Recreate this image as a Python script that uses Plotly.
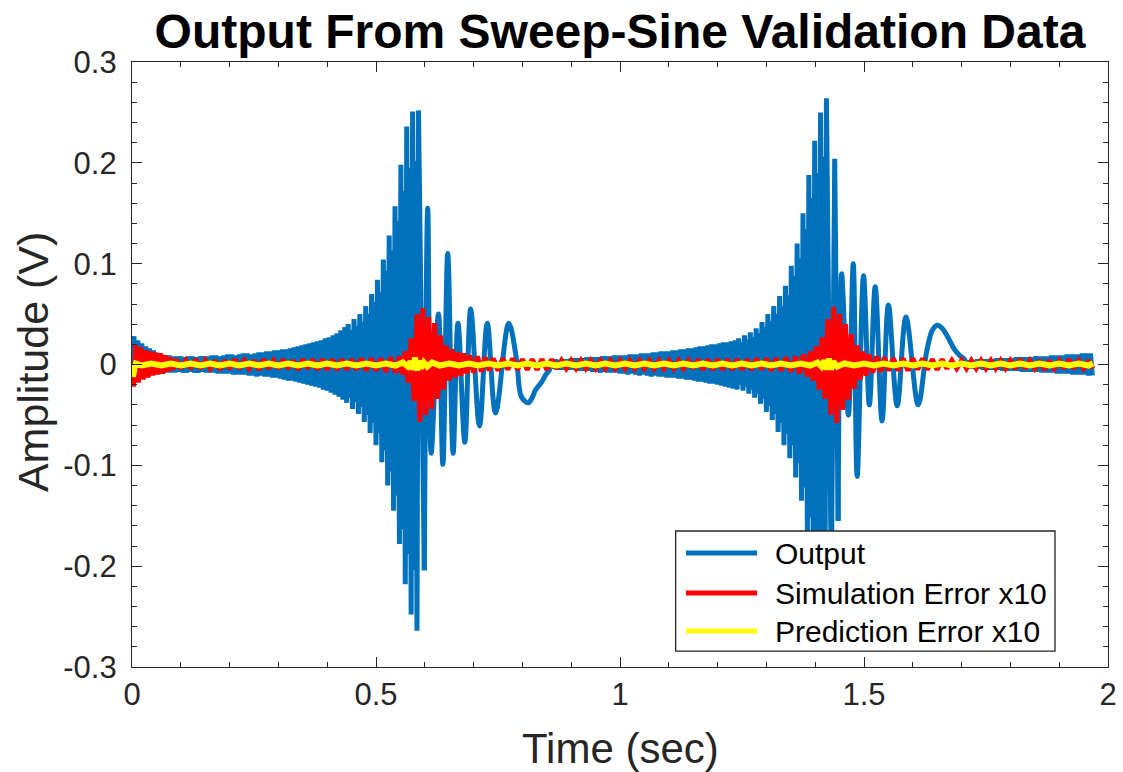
import plotly.graph_objects as go

# ---------------- data ----------------
# Output (V): irregular pieces (times, values) and uniformly sampled dense pieces (start, step, values)
out_start_t = [0.000, 0.004, 0.008, 0.012, 0.016, 0.020, 0.024, 0.028, 0.032, 0.036, 0.040, 0.044, 0.048]
out_start_v = [0.000, 0.028, -0.012, 0.024, -0.011, 0.021, -0.010, 0.018, -0.009, 0.016, -0.009, 0.014, -0.009]

out_a_start, out_a_step = 0.052, 0.004
out_a_v = [
    0.011, -0.009, 0.010, -0.008, 0.009, -0.008, 0.009, -0.008, 0.008, -0.008,
    0.008, -0.007, 0.008, -0.008, 0.007, -0.008, 0.008, -0.007, 0.008, -0.008,
    0.007, -0.008, 0.008, -0.007, 0.008, -0.008, 0.008, -0.008, 0.009, -0.008,
    0.009, -0.009, 0.008, -0.009, 0.009, -0.009, 0.010, -0.009, 0.010, -0.010,
    0.009, -0.010, 0.010, -0.010, 0.011, -0.010, 0.011, -0.011, 0.010, -0.011,
    0.011, -0.012, 0.012, -0.011, 0.012, -0.012, 0.013, -0.012, 0.013, -0.013,
    0.014, -0.013, 0.014, -0.014, 0.015, -0.015, 0.015, -0.016, 0.016, -0.016,
    0.017, -0.017, 0.018, -0.018, 0.019, -0.019, 0.020, -0.020, 0.021, -0.021,
    0.022, -0.022, 0.023, -0.023, 0.024, -0.025, 0.026, -0.026, 0.027, -0.028,
    0.029, -0.030, 0.031, -0.032, 0.034, -0.035, 0.037,
]

out_b_start, out_b_step = 0.440, 0.003
out_b_v = [
    -0.038, 0.040, -0.033, 0.034, -0.044, 0.045, -0.037, 0.038, -0.049, 0.050,
    -0.042, 0.042, -0.057, 0.058, -0.050, 0.050, -0.068, 0.070, -0.058, 0.062,
    -0.080, 0.084, -0.068, 0.072, -0.097, 0.104, -0.085, 0.093, -0.120, 0.128,
    -0.106, 0.113, -0.145, 0.157, -0.130, 0.142, -0.178, 0.198, -0.164, 0.172,
    -0.218, 0.236, -0.188, 0.195, -0.248, 0.251, -0.204, 0.202, -0.264, 0.252,
]

out_slow1_t = [0.599, 0.606, 0.613, 0.628, 0.637, 0.647, 0.658, 0.668, 0.682, 0.694,
               0.712, 0.728, 0.745, 0.772, 0.788, 0.798, 0.812, 0.820, 0.826, 0.832,
               0.840, 0.848, 0.856]
out_slow1_v = [-0.204, 0.155, -0.088, 0.050, -0.099, 0.110, -0.088, 0.041, -0.077, 0.055,
               -0.061, 0.041, -0.048, 0.041, 0.005, -0.032, -0.038, -0.033, -0.026, -0.022,
               -0.017, -0.010, -0.005]

out_c_start, out_c_step = 0.860, 0.004
out_c_v = [
    0.004, -0.004, 0.005, -0.005, 0.004, -0.005, 0.005, -0.005, 0.005, -0.005,
    0.006, -0.005, 0.006, -0.006, 0.006, -0.006, 0.006, -0.006, 0.007, -0.006,
    0.007, -0.007, 0.007, -0.007, 0.007, -0.008, 0.008, -0.007, 0.008, -0.008,
    0.008, -0.008, 0.009, -0.008, 0.009, -0.009, 0.009, -0.009, 0.009, -0.010,
    0.010, -0.009, 0.010, -0.010, 0.010, -0.011, 0.011, -0.010, 0.011, -0.011,
    0.011, -0.012, 0.012, -0.011, 0.012, -0.012, 0.013, -0.012, 0.013, -0.013,
    0.013, -0.013, 0.014, -0.013, 0.014, -0.014, 0.015, -0.014, 0.015, -0.015,
    0.016, -0.015, 0.016, -0.016, 0.017, -0.017, 0.018, -0.017, 0.018, -0.018,
    0.019, -0.019, 0.020, -0.019, 0.020, -0.020, 0.021, -0.021, 0.022, -0.022,
    0.022, -0.023, 0.023, -0.024, 0.024, -0.025,
]

out_d_start, out_d_step = 1.243, 0.003
out_d_v = [
    0.026, -0.020, 0.022, -0.026, 0.029, -0.022, 0.025, -0.029, 0.032, -0.025,
    0.027, -0.033, 0.036, -0.029, 0.031, -0.039, 0.042, -0.034, 0.037, -0.047,
    0.050, -0.041, 0.043, -0.055, 0.058, -0.049, 0.050, -0.067, 0.068, -0.058,
    0.058, -0.080, 0.078, -0.069, 0.069, -0.093, 0.098, -0.080, 0.088, -0.112,
    0.120, -0.098, 0.105, -0.135, 0.150, -0.122, 0.134, -0.170, 0.188, -0.152,
    0.165, -0.205, 0.222, -0.176, 0.190, -0.232, 0.250, -0.194, 0.206, -0.250,
    0.264,
]

out_slow2_t = [1.433, 1.440, 1.447, 1.454, 1.468, 1.478, 1.486, 1.499, 1.511, 1.523,
               1.537, 1.550, 1.568, 1.586, 1.611, 1.628, 1.640, 1.650, 1.660, 1.672,
               1.684, 1.696, 1.706]
out_slow2_v = [-0.215, 0.204, -0.155, 0.090, -0.050, 0.100, -0.111, 0.088, -0.040, 0.077,
               -0.056, 0.059, -0.041, 0.047, -0.040, 0.012, 0.034, 0.039, 0.036, 0.027,
               0.016, 0.009, 0.005]

out_e_start, out_e_step = 1.712, 0.004
out_e_v = [
    -0.004, 0.004, -0.004, 0.004, -0.004, 0.005, -0.004, 0.005, -0.005, 0.005,
    -0.005, 0.005, -0.005, 0.005, -0.005, 0.006, -0.005, 0.006, -0.006, 0.006,
    -0.006, 0.006, -0.006, 0.006, -0.006, 0.007, -0.006, 0.007, -0.007, 0.007,
    -0.007, 0.007, -0.007, 0.007, -0.007, 0.008, -0.007, 0.008, -0.008, 0.008,
    -0.008, 0.008, -0.008, 0.009, -0.008, 0.009, -0.009, 0.009, -0.009, 0.009,
    -0.009, 0.010, -0.009, 0.010, -0.010, 0.010, -0.010, 0.010, -0.010, 0.011,
    -0.010, 0.011, -0.011, 0.011, -0.011,
]

sim_t = [
    0.000, 0.003, 0.008, 0.013, 0.018, 0.023, 0.028, 0.033, 0.038, 0.043,
    0.048, 0.053, 0.058, 0.063, 0.068, 0.073, 0.078, 0.084, 0.090, 0.100,
    0.110, 0.120, 0.130, 0.140, 0.150, 0.160, 0.170, 0.180, 0.190, 0.200,
    0.210, 0.220, 0.230, 0.240, 0.250, 0.260, 0.270, 0.280, 0.290, 0.300,
    0.310, 0.320, 0.330, 0.340, 0.350, 0.360, 0.370, 0.380, 0.390, 0.400,
    0.410, 0.420, 0.430, 0.440, 0.450, 0.460, 0.470, 0.480, 0.490, 0.500,
    0.510, 0.520, 0.530, 0.540, 0.548, 0.554, 0.560, 0.566, 0.572, 0.578,
    0.584, 0.590, 0.596, 0.602, 0.608, 0.614, 0.620, 0.626, 0.632, 0.638,
    0.644, 0.650, 0.656, 0.662, 0.668, 0.674, 0.680, 0.686, 0.692, 0.700,
    0.708, 0.716, 0.724, 0.732, 0.740, 0.750, 0.760, 0.770, 0.780, 0.790,
    0.800, 0.810, 0.820, 0.830, 0.840, 0.850, 0.860, 0.870, 0.880, 0.890,
    0.900, 0.910, 0.920, 0.930, 0.940, 0.950, 0.960, 0.970, 0.980, 0.990,
    1.000, 1.010, 1.020, 1.030, 1.040, 1.050, 1.060, 1.070, 1.080, 1.090,
    1.100, 1.110, 1.120, 1.130, 1.140, 1.150, 1.160, 1.170, 1.180, 1.190,
    1.200, 1.210, 1.220, 1.230, 1.240, 1.250, 1.260, 1.270, 1.280, 1.290,
    1.300, 1.310, 1.320, 1.330, 1.340, 1.350, 1.360, 1.368, 1.376, 1.384,
    1.390, 1.396, 1.402, 1.408, 1.414, 1.420, 1.426, 1.432, 1.438, 1.444,
    1.450, 1.456, 1.462, 1.468, 1.474, 1.480, 1.486, 1.492, 1.498, 1.504,
    1.510, 1.518, 1.526, 1.534, 1.542, 1.550, 1.560, 1.570, 1.580, 1.590,
    1.600, 1.610, 1.620, 1.630, 1.640, 1.650, 1.660, 1.670, 1.680, 1.690,
    1.700, 1.710, 1.720, 1.730, 1.740, 1.750, 1.760, 1.770, 1.780, 1.790,
    1.800, 1.810, 1.820, 1.830, 1.840, 1.850, 1.860, 1.870, 1.880, 1.890,
    1.900, 1.910, 1.920, 1.930, 1.940, 1.950, 1.960, 1.969,
]
sim_v = [
    0.000, -0.022, 0.019, -0.018, 0.017, -0.015, 0.014, -0.013, 0.013, -0.011,
    0.012, -0.010, 0.011, -0.009, 0.009, -0.007, 0.007, -0.005, 0.005, -0.004,
    0.004, -0.004, 0.005, -0.004, 0.004, -0.004, 0.004, -0.005, 0.004, -0.004,
    0.005, -0.004, 0.004, -0.004, 0.004, -0.005, 0.005, -0.004, 0.004, -0.004,
    0.005, -0.004, 0.004, -0.005, 0.005, -0.004, 0.005, -0.005, 0.005, -0.005,
    0.005, -0.005, 0.005, -0.005, 0.005, -0.005, 0.006, -0.006, 0.006, -0.006,
    0.006, -0.007, 0.007, -0.008, 0.008, -0.010, 0.013, -0.018, 0.026, -0.036,
    0.050, -0.057, 0.056, -0.050, 0.047, -0.044, 0.041, -0.034, 0.029, -0.025,
    0.019, -0.016, 0.015, -0.013, 0.012, -0.011, 0.011, -0.009, 0.009, -0.008,
    0.008, -0.007, 0.007, -0.006, 0.006, -0.006, 0.006, -0.005, 0.006, -0.005,
    0.005, -0.005, 0.005, -0.005, 0.005, -0.005, 0.005, -0.004, 0.004, -0.004,
    0.004, -0.004, 0.004, -0.004, 0.004, -0.004, 0.004, -0.004, 0.004, -0.004,
    0.004, -0.004, 0.004, -0.004, 0.004, -0.004, 0.004, -0.004, 0.004, -0.004,
    0.004, -0.004, 0.004, -0.004, 0.004, -0.004, 0.005, -0.005, 0.005, -0.005,
    0.005, -0.005, 0.005, -0.005, 0.005, -0.005, 0.005, -0.005, 0.006, -0.005,
    0.006, -0.006, 0.006, -0.006, 0.007, -0.007, 0.008, -0.009, 0.010, -0.012,
    0.013, -0.016, 0.018, -0.025, 0.027, -0.034, 0.045, -0.050, 0.057, -0.058,
    0.050, -0.045, 0.040, -0.035, 0.030, -0.024, 0.019, -0.015, 0.013, -0.011,
    0.010, -0.008, 0.008, -0.007, 0.007, -0.006, 0.006, -0.006, 0.006, -0.006,
    0.006, -0.005, 0.006, -0.005, 0.005, -0.005, 0.005, -0.004, 0.004, -0.004,
    0.004, -0.004, 0.004, -0.004, 0.004, -0.004, 0.004, -0.004, 0.004, -0.004,
    0.004, -0.004, 0.005, -0.004, 0.004, -0.004, 0.004, -0.005, 0.004, -0.004,
    0.004, -0.004, 0.005, -0.004, 0.004, -0.004, 0.004, -0.004,
]

pred_t = [
    0.000, 0.002, 0.005, 0.008, 0.020, 0.040, 0.060, 0.080, 0.100, 0.120,
    0.140, 0.160, 0.180, 0.200, 0.220, 0.240, 0.260, 0.280, 0.300, 0.320,
    0.340, 0.360, 0.380, 0.400, 0.420, 0.440, 0.460, 0.480, 0.500, 0.520,
    0.540, 0.555, 0.565, 0.571, 0.576, 0.580, 0.584, 0.588, 0.592, 0.598,
    0.605, 0.615, 0.630, 0.650, 0.670, 0.690, 0.710, 0.730, 0.750, 0.770,
    0.790, 0.810, 0.830, 0.850, 0.870, 0.890, 0.910, 0.930, 0.950, 0.970,
    0.990, 1.010, 1.030, 1.050, 1.070, 1.090, 1.110, 1.130, 1.150, 1.170,
    1.190, 1.210, 1.230, 1.250, 1.270, 1.290, 1.310, 1.330, 1.350, 1.370,
    1.390, 1.405, 1.413, 1.419, 1.424, 1.428, 1.432, 1.437, 1.445, 1.460,
    1.480, 1.500, 1.520, 1.540, 1.560, 1.580, 1.600, 1.620, 1.640, 1.660,
    1.680, 1.700, 1.720, 1.740, 1.760, 1.780, 1.800, 1.820, 1.840, 1.860,
    1.880, 1.900, 1.920, 1.940, 1.960, 1.969,
]
pred_v = [
    0.000, -0.012, -0.004, 0.001, -0.001, 0.001, -0.001, 0.001, -0.001, 0.001,
    -0.001, 0.001, -0.001, 0.001, -0.001, 0.001, -0.001, 0.001, -0.001, 0.001,
    -0.001, 0.001, -0.001, 0.001, -0.001, 0.001, -0.001, 0.001, -0.001, 0.001,
    -0.001, 0.002, -0.002, 0.003, -0.005, 0.007, -0.006, 0.004, -0.004, 0.002,
    -0.002, 0.002, -0.001, 0.001, -0.001, 0.001, -0.001, 0.001, -0.001, 0.001,
    -0.001, 0.001, -0.001, 0.001, -0.001, 0.001, -0.001, 0.001, -0.001, 0.001,
    -0.001, 0.001, -0.001, 0.001, -0.001, 0.001, -0.001, 0.001, -0.001, 0.001,
    -0.001, 0.001, -0.001, 0.001, -0.001, 0.001, -0.001, 0.001, -0.001, 0.001,
    -0.001, 0.002, -0.002, 0.004, -0.005, 0.006, -0.005, 0.003, -0.002, 0.001,
    -0.001, 0.001, -0.001, 0.001, -0.001, 0.001, -0.001, 0.001, -0.001, 0.001,
    -0.001, 0.001, -0.001, 0.001, -0.001, 0.001, -0.001, 0.001, -0.001, 0.001,
    -0.001, 0.001, -0.001, 0.001, -0.001, 0.001,
]

series_names = ["Output", "Simulation Error x10", "Prediction Error x10"]
series_colors = ["#0072BD", "#FF0000", "#FFFF00"]

# time ranges where the output is a slow, smooth oscillation (drawn with a smooth line shape)
smooth_ranges = [(0.599, 0.860), (1.447, 1.712)]

x_tickvals = [0, 0.5, 1, 1.5, 2]
x_ticktext = ["0", "0.5", "1", "1.5", "2"]
y_tickvals = [-0.3, -0.2, -0.1, 0, 0.1, 0.2, 0.3]
y_ticktext = ["-0.3", "-0.2", "-0.1", "0", "0.1", "0.2", "0.3"]

title_text = "Output From Sweep-Sine Validation Data"
x_label = "Time (sec)"
y_label = "Amplitude (V)"

# ---------------- assemble the Output series ----------------
def uniform_times(start, step, n):
    return [round(start + i * step, 4) for i in range(n)]

pts = []
pts += list(zip(out_start_t, out_start_v))
pts += list(zip(uniform_times(out_a_start, out_a_step, len(out_a_v)), out_a_v))
pts += list(zip(uniform_times(out_b_start, out_b_step, len(out_b_v)), out_b_v))
pts += list(zip(out_slow1_t, out_slow1_v))
pts += list(zip(uniform_times(out_c_start, out_c_step, len(out_c_v)), out_c_v))
pts += list(zip(uniform_times(out_d_start, out_d_step, len(out_d_v)), out_d_v))
pts += list(zip(out_slow2_t, out_slow2_v))
pts += list(zip(uniform_times(out_e_start, out_e_step, len(out_e_v)), out_e_v))
pts.sort(key=lambda p: p[0])
out_t = [p[0] for p in pts]
out_v = [p[1] for p in pts]

assert len(out_start_t) == len(out_start_v)
assert len(out_slow1_t) == len(out_slow1_v)
assert len(out_slow2_t) == len(out_slow2_v)
assert len(sim_t) == len(sim_v)
assert len(pred_t) == len(pred_v)

# ---------------- figure ----------------
FONT = "Liberation Sans, Arial, Helvetica, sans-serif"
AXC = "#262626"
LW = 5.0

fig = go.Figure()

bounds = [0.0]
for a, b in smooth_ranges:
    bounds += [a, b]
bounds.append(10.0)
for i in range(len(bounds) - 1):
    lo, hi = bounds[i], bounds[i + 1]
    idx = [k for k, t in enumerate(out_t) if lo - 1e-9 <= t <= hi + 1e-9]
    shp = "spline" if i % 2 == 1 else "linear"
    fig.add_trace(go.Scatter(
        x=[out_t[k] for k in idx], y=[out_v[k] for k in idx], mode="lines",
        name=series_names[0], legendgroup="out", showlegend=False,
        line=dict(color=series_colors[0], width=LW, shape=shp, smoothing=1.0, simplify=False)))

fig.add_trace(go.Scatter(x=sim_t, y=sim_v, mode="lines", name=series_names[1],
                         line=dict(color=series_colors[1], width=LW, simplify=False), showlegend=False))
fig.add_trace(go.Scatter(x=pred_t, y=pred_v, mode="lines", name=series_names[2],
                         line=dict(color=series_colors[2], width=6, simplify=False), showlegend=False))

axis_common = dict(
    showgrid=False, zeroline=False, showline=True, linecolor=AXC, linewidth=1.3,
    mirror="ticks", ticks="inside", ticklen=10, tickwidth=1.3, tickcolor=AXC,
    tickfont=dict(family=FONT, size=31, color=AXC),
)

fig.update_xaxes(range=[0, 2], tickvals=x_tickvals, ticktext=x_ticktext,
                 minor=dict(dtick=0.1, ticks="inside", ticklen=5, tickwidth=1.3, tickcolor=AXC, showgrid=False),
                 ticklabelstandoff=0, **axis_common)
fig.update_yaxes(range=[-0.3, 0.3], tickvals=y_tickvals, ticktext=y_ticktext,
                 minor=dict(dtick=0.02, ticks="inside", ticklen=5, tickwidth=1.3, tickcolor=AXC, showgrid=False),
                 ticklabelstandoff=8, **axis_common)

# legend drawn as a box (paper coordinates)
lg_x0, lg_x1, lg_y0, lg_y1 = 0.557, 0.9457, 0.0264, 0.2248
row_y = [0.1884, 0.1223, 0.0595]
shapes = [dict(type="rect", xref="paper", yref="paper", x0=lg_x0, x1=lg_x1, y0=lg_y0, y1=lg_y1,
               fillcolor="white", line=dict(color=AXC, width=1.3), layer="above")]
annotations = []
for name, col, yy in zip(series_names, series_colors, row_y):
    shapes.append(dict(type="line", xref="paper", yref="paper", x0=0.5676, x1=0.6404, y0=yy, y1=yy,
                       line=dict(color=col, width=LW), layer="above"))
    annotations.append(dict(text=name, xref="paper", yref="paper", x=0.6568, y=yy,
                            xanchor="left", yanchor="middle", showarrow=False,
                            font=dict(family=FONT, size=30, color="black")))

annotations.append(dict(text=x_label, xref="paper", yref="paper", x=0.5, y=-0.135,
                        xanchor="center", yanchor="middle", showarrow=False,
                        font=dict(family=FONT, size=42, color=AXC)))
annotations.append(dict(text=y_label, xref="paper", yref="paper", x=-0.1014, y=0.504,
                        xanchor="center", yanchor="middle", textangle=-90, showarrow=False,
                        font=dict(family=FONT, size=43, color=AXC)))

fig.update_layout(
    width=1123, height=772,
    margin=dict(l=132, r=15, t=62, b=105, autoexpand=False),
    paper_bgcolor="white", plot_bgcolor="white",
    title=dict(text="<b>" + title_text + "</b>", x=0.5, xref="paper", y=1 - 31 / 772,
               yref="container", xanchor="center", yanchor="middle",
               font=dict(family=FONT, size=48, color="black")),
    shapes=shapes, annotations=annotations, showlegend=False,
)

fig.write_html("out.html")
